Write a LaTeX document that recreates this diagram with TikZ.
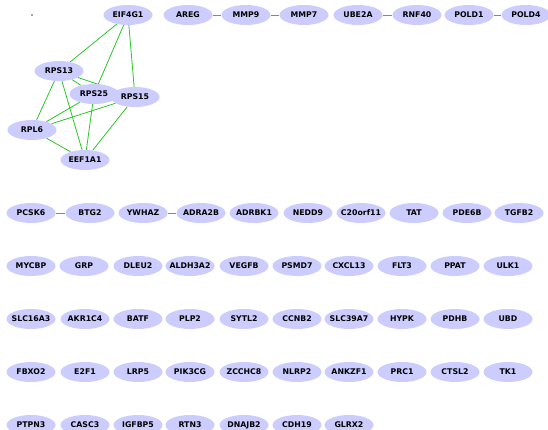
\documentclass[tikz,border=0pt]{standalone}
\usepackage{fontspec}
\setmainfont{DejaVu Sans}
\usetikzlibrary{shapes.geometric,backgrounds}
\definecolor{genefill}{RGB}{204,204,255}
\definecolor{linkgreen}{RGB}{40,200,40}
\tikzset{
  gene/.style={ellipse, fill=genefill, minimum width=49pt, minimum height=20pt, inner xsep=-10pt, inner ysep=0pt, font=\bfseries\fontsize{7.8}{9}\selectfont},
  link/.style={linkgreen, line width=0.8pt}
}

\begin{document}
\begin{tikzpicture}[x=1pt, y=-1pt]
			%%%%% START %%%%%
			\useasboundingbox (0, 0) rectangle (548, 430);
			\fill[black!35] (31.3, 14.3) rectangle (32.7, 15.7);

			% ribosomal cluster
			\node[gene] (eif4g1) at (128, 15) {EIF4G1};
			\node[gene] (rps13) at (59, 71) {RPS13};
			\node[gene] (rps25) at (94, 94) {RPS25};
			\node[gene] (rps15) at (135, 97) {RPS15};
			\node[gene] (rpl6) at (32, 130) {RPL6};
			\node[gene] (eef1a1) at (85, 160) {EEF1A1};

			% small pairs along the top
			\node[gene] (areg) at (188, 15) {AREG};
			\node[gene] (mmp9) at (246, 15) {MMP9};
			\node[gene] (mmp7) at (304, 15) {MMP7};
			\node[gene] (ube2a) at (358, 15) {UBE2A};
			\node[gene] (rnf40) at (417, 15) {RNF40};
			\node[gene] (pold1) at (469, 15) {POLD1};
			\node[gene] (pold4) at (526, 15) {POLD4};

			% row 1
			\node[gene] (pcsk6) at (31, 213) {PCSK6};
			\node[gene] (btg2) at (90, 213) {BTG2};
			\node[gene] (ywhaz) at (143, 213) {YWHAZ};
			\node[gene] (adra2b) at (201, 213) {ADRA2B};
			\node[gene] (adrbk1) at (254, 213) {ADRBK1};
			\node[gene] (nedd9) at (308, 213) {NEDD9};
			\node[gene] (c20orf11) at (361, 213) {C20orf11};
			\node[gene] (tat) at (414, 213) {TAT};
			\node[gene] (pde6b) at (467, 213) {PDE6B};
			\node[gene] (tgfb2) at (519, 213) {TGFB2};

			% row 2
			\node[gene] (mycbp) at (31, 266) {MYCBP};
			\node[gene] (grp) at (84, 266) {GRP};
			\node[gene] (dleu2) at (138, 266) {DLEU2};
			\node[gene] (aldh3a2) at (190, 266) {ALDH3A2};
			\node[gene] (vegfb) at (244, 266) {VEGFB};
			\node[gene] (psmd7) at (297, 266) {PSMD7};
			\node[gene] (cxcl13) at (349, 266) {CXCL13};
			\node[gene] (flt3) at (402, 266) {FLT3};
			\node[gene] (ppat) at (455, 266) {PPAT};
			\node[gene] (ulk1) at (508, 266) {ULK1};

			% row 3
			\node[gene] (slc16a3) at (31, 319) {SLC16A3};
			\node[gene] (akr1c4) at (85, 319) {AKR1C4};
			\node[gene] (batf) at (138, 319) {BATF};
			\node[gene] (plp2) at (190, 319) {PLP2};
			\node[gene] (sytl2) at (244, 319) {SYTL2};
			\node[gene] (ccnb2) at (297, 319) {CCNB2};
			\node[gene] (slc39a7) at (349, 319) {SLC39A7};
			\node[gene] (hypk) at (402, 319) {HYPK};
			\node[gene] (pdhb) at (455, 319) {PDHB};
			\node[gene] (ubd) at (508, 319) {UBD};

			% row 4
			\node[gene] (fbxo2) at (31, 372) {FBXO2};
			\node[gene] (e2f1) at (85, 372) {E2F1};
			\node[gene] (lrp5) at (138, 372) {LRP5};
			\node[gene] (pik3cg) at (190, 372) {PIK3CG};
			\node[gene] (zcchc8) at (244, 372) {ZCCHC8};
			\node[gene] (nlrp2) at (297, 372) {NLRP2};
			\node[gene] (ankzf1) at (349, 372) {ANKZF1};
			\node[gene] (prc1) at (402, 372) {PRC1};
			\node[gene] (ctsl2) at (455, 372) {CTSL2};
			\node[gene] (tk1) at (508, 372) {TK1};

			% row 5
			\node[gene] (ptpn3) at (31, 425) {PTPN3};
			\node[gene] (casc3) at (85, 425) {CASC3};
			\node[gene] (igfbp5) at (138, 425) {IGFBP5};
			\node[gene] (rtn3) at (190, 425) {RTN3};
			\node[gene] (dnajb2) at (244, 425) {DNAJB2};
			\node[gene] (cdh19) at (297, 425) {CDH19};
			\node[gene] (glrx2) at (349, 425) {GLRX2};

			% interactions, kept behind the genes
			\begin{pgfonlayer}{background}
			\draw[link] (eif4g1) -- (rps13);
			\draw[link] (eif4g1) -- (rps25);
			\draw[link] (eif4g1) -- (rps15);
			\draw[link] (rps13) -- (rps25);
			\draw[link] (rps13) -- (rps15);
			\draw[link] (rps13) -- (rpl6);
			\draw[link] (rps13) -- (eef1a1);
			\draw[link] (rps25) -- (rpl6);
			\draw[link] (rps25) -- (eef1a1);
			\draw[link] (rps15) -- (rpl6);
			\draw[link] (rps15) -- (eef1a1);
			\draw[link] (rpl6) -- (eef1a1);

			\draw[link] (areg) -- (mmp9);
			\draw[link] (mmp9) -- (mmp7);
			\draw[link] (ube2a) -- (rnf40);
			\draw[link] (pold1) -- (pold4);
			\draw[link] (pcsk6) -- (btg2);
			\draw[link] (ywhaz) -- (adra2b);
			\end{pgfonlayer}
			%%%%% END %%%%%
\end{tikzpicture}
\end{document}
